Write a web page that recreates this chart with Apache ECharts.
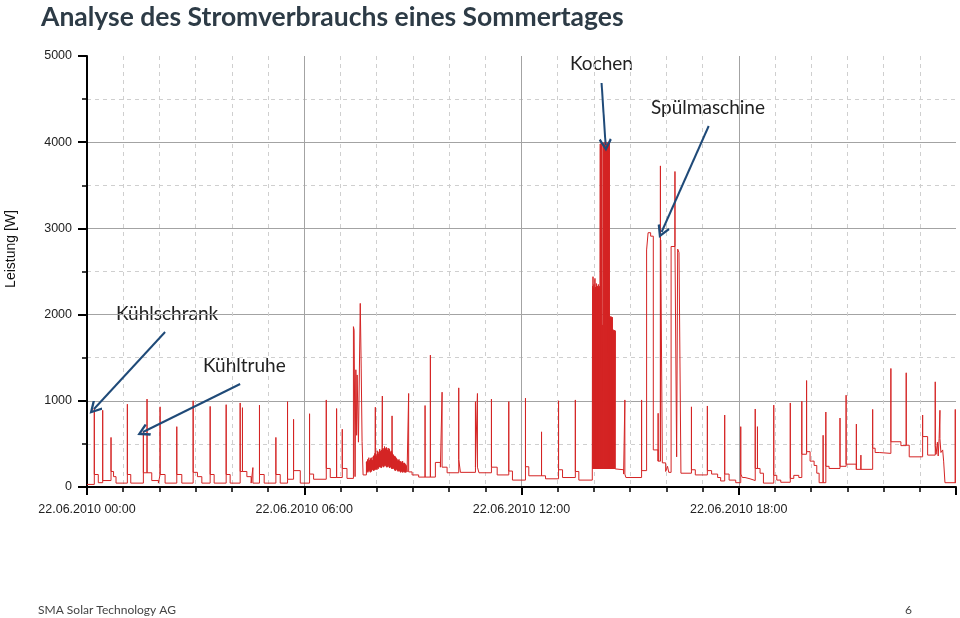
<!DOCTYPE html>
<html><head><meta charset="utf-8">
<script src="https://cdn.jsdelivr.net/npm/echarts@6/dist/echarts.min.js"></script>
<style>html,body{margin:0;padding:0;background:#fff}#c{width:960px;height:618px}</style>
</head><body><div id="c"></div>
<script>
// ---- texts ----
const chartTitle = 'Analyse des Stromverbrauchs eines Sommertages';
const yAxisName = 'Leistung [W]';
const xTickLabels = ['22.06.2010 00:00', '22.06.2010 06:00', '22.06.2010 12:00', '22.06.2010 18:00'];
const footerLeft = 'SMA Solar Technology AG';
const footerRight = '6';

// ---- data: time in minutes since 00:00, power in W ----
// base load level changes [minute, W]
const baseLevels = [
  [0,30],
  [12.1,145],[18.7,50],[26.0,75],[39.8,180],[44.0,120],[48.1,45],
  [66.9,145],[72.5,45],
  [93.4,165],[107.3,75],[118.3,45],
  [121.1,145],[129.4,45],
  [148.8,145],[157.1,45],
  [175.9,170],[183.0,120],[190.3,45],
  [204.1,145],[210.7,45],
  [230.6,145],[237.2,45],
  [253.8,180],[264.9,120],[272.0,45],
  [285.8,145],[293.6,45],
  [313.0,145],[320.2,45],
  [332.3,90],[342.3,190],[353.4,45],
  [368.8,150],[375.5,90],
  [396.5,215],[403.1,110],
  [423.0,215],[430.8,100],
  [441.5,1860],[442.6,1820],[444.2,120],[445.5,1360],[446.8,600],[447.6,1300],[449.8,520],[452.8,2130],[454.4,1380],[455.8,530],[457.5,140],
  [530.4,175],[538.7,140],[549.6,115],[577.3,285],[585.6,230],[596.7,165],[616.0,320],[618.8,170],[643.7,230],[649.5,165],
  [670.2,230],[679.7,140],[698.9,185],[705.0,80],[726.6,235],[732.1,130],[759.8,95],[781.4,200],[788.0,110],[809.2,180],[815.0,80],
  [837.3,210],[876.0,200],[889.2,150],[893.0,110],[919.0,190],
  [927.3,2750],[929.8,2950],[934.0,2910],[938.4,430],[946.4,300],[950.6,2865],[953.4,280],[958.9,180],[962.0,240],[964.0,170],
  [967.9,2790],[977.1,350],[978.8,2760],[981.0,2720],[984.2,160],
  [1001.6,200],[1008.0,140],[1028.0,190],[1035.0,150],[1045.0,110],[1050.0,70],[1056.7,150],[1064.0,80],[1075.0,50],
  [1083.3,150],[1086.0,110],[1090.4,95],[1098.7,75],[1107.3,215],[1115.3,160],[1120.9,45],[1138.0,135],[1143.0,80],[1149.6,55],
  [1165.4,100],[1171.2,135],[1179.5,110],[1184.5,380],[1192.4,410],[1198.2,300],[1204.9,250],[1209.3,160],[1213.2,50],
  [1224.3,240],[1229.7,215],[1247.8,240],[1257.9,265],[1274.9,205],[1301.9,450],[1306.0,400],[1312.7,390],[1332.1,525],
  [1348.7,480],[1357.5,485],[1362.5,350],[1384.7,585],[1393.0,370],[1405.6,480],[1407.0,380],[1409.2,520],[1410.5,360],
  [1412.0,560],[1415.0,400],[1417.9,430],[1419.5,300],[1421.7,50]
];
// morning appliance fluctuation (level changes)
const morningNoise = [
  [463,290],[463.5,170],[464,300],[464.5,180],[465,320],[465.5,170],[466,280],[466.5,190],[467,340],[467.5,180],
  [468,310],[468.5,200],[469,300],[469.5,170],[470,330],[470.5,190],[471,340],[471.5,180],[472,310],[472.5,200],
  [473,310],[473.5,200],[474,350],[474.5,190],[475,360],[475.5,190],[476,370],[476.5,200],[477,390],[477.5,210],
  [478,330],[478.5,200],[479,380],[479.5,210],[480,360],[480.5,200],[481,420],[481.5,220],[482,400],[482.5,210],
  [483,380],[483.5,230],[484,410],[484.5,230],[485,440],[485.5,240],[486,420],[486.5,230],[487,400],[487.5,220],
  [488,430],[488.5,230],[489,460],[489.5,250],[490,440],[490.5,240],[491,430],[491.5,230],[492,450],[492.5,240],
  [493,470],[493.5,260],[494,450],[494.5,250],[495,440],[495.5,240],[496,460],[496.5,230],[497,450],[497.5,230],
  [498,430],[498.5,240],[499,420],[499.5,250],[500,450],[500.5,230],[501,440],[501.5,220],[502,410],[502.5,230],
  [503,400],[503.5,230],[504,420],[504.5,220],[505,410],[505.5,210],[506,390],[506.5,220],[507,380],[507.5,220],
  [508,370],[508.5,210],[509,360],[509.5,200],[510,360],[510.5,190],[511,350],[511.5,190],[512,340],[512.5,200],
  [513,330],[513.5,210],[514,320],[514.5,190],[515,300],[515.5,180],[516,310],[516.5,190],[517,320],[517.5,190],
  [518,300],[518.5,180],[519,290],[519.5,170],[520,300],[520.5,180],[521,280],[521.5,180],[522,290],[522.5,170],
  [523,300],[523.5,170],[524,280],[524.5,180],[525,260],[525.5,180],[526,280],[526.5,170],[527,270],[527.5,170],
  [528,260],[528.5,170],[529,250]
];
// short start-up peaks [minute, W]
const spikes = [
  [12.1,910],[26.0,890],[39.8,575],[66.9,960],[93.4,650],[99.5,1020],[121.1,930],[148.8,700],[175.9,1000],
  [204.1,935],[230.6,955],[253.8,975],[257.6,920],[274.9,225],[285.8,950],[313.0,575],[332.3,990],[342.3,785],
  [368.8,850],[396.5,1010],[413.6,910],[423.0,670],[477.8,925],[489.4,1055],[505.5,825],[533.0,1085],[560.2,945],
  [569.0,1530],[588.4,1100],[616.0,1150],[643.7,990],[647.0,1085],[670.2,1020],[698.9,990],[726.6,1030],[753.2,640],
  [781.4,1000],[809.2,1010],[891.3,1010],[919.0,1010],[946.4,855],[950.2,3725],[974.3,3660],[1001.6,930],[1028.0,940],
  [1056.7,835],[1083.3,700],[1107.3,905],[1111.0,700],[1138.0,950],[1165.4,975],[1184.5,995],[1192.4,1235],
  [1219.8,600],[1224.3,870],[1247.8,800],[1257.9,1065],[1274.9,730],[1282.4,370],[1301.9,900],[1332.1,1375],
  [1357.5,1325],[1384.7,835],[1405.6,1220],[1413.4,890],[1438.8,900]
];
// cooking (hob switching) peaks [minute, W]
const cookingSpikes = [
  [837.7,2330],[838.5,2440],[839.3,2310],[840.1,2350],[840.9,2290],[841.7,2420],[842.5,2320],[843.3,2300],
  [844.1,2360],[844.9,2310],[845.7,2330],[846.5,2290],[847.3,2350],[848.1,2320],[848.9,2300],[849.7,2330],
  [850.5,3980],[851.3,3950],[852.1,4010],[852.9,3960],[853.7,1870],[854.5,1880],[855.3,3990],[856.1,3950],
  [856.9,4000],[857.7,3970],[858.5,3940],[859.3,4020],[860.1,3980],[860.9,3960],[861.7,4000],[862.5,3950],
  [863.3,3990],[864.1,3970],[864.9,3940],[865.7,4010],
  [866.5,1975],[867.3,1960],[868.1,1980],[868.9,1970],[869.7,1950],[870.5,1970],
  [871.3,1830],[872.1,1810],[872.9,1820],[873.7,1800],[874.5,1820],[875.3,1810]
];
// annotations: arrow from label to data point [minute, W]
const annotations = [
  { text: 'Kochen',       from: [852.7, 4687], to: [859.4, 3967] },
  { text: 'Spülmaschine', from: [1030.2, 4188], to: [952.2, 2958] },
  { text: 'Kühlschrank',  from: [129.4, 1798], to: [11.6, 905] },
  { text: 'Kühltruhe',    from: [253.8, 1195], to: [92.9, 638] }
];

// ---- build polyline from level changes and peaks ----
const events = [];
baseLevels.concat(morningNoise).forEach(p => events.push({ t: p[0], kind: 0, v: p[1] }));
spikes.concat(cookingSpikes).forEach(p => events.push({ t: p[0], kind: 1, v: p[1] }));
events.sort((a, b) => a.t - b.t || a.kind - b.kind);
const lineData = [];
let cur = null;
events.forEach(e => {
  if (e.kind === 0) {
    if (cur === null) { lineData.push([e.t, e.v]); }
    else { lineData.push([e.t, cur], [e.t, e.v]); }
    cur = e.v;
  } else {
    lineData.push([e.t, cur], [e.t, e.v], [e.t, cur]);
  }
});
lineData.push([1440, cur]);

const chevron = 'path://M5,0 L10,9 L8.6,10.2 L5,3.6 L1.4,10.2 L0,9 Z';
const chart = echarts.init(document.getElementById('c'), null, { renderer: 'canvas' });
const textFont = 'Lato, "Noto Sans", sans-serif';
chart.setOption({
  animation: false,
  backgroundColor: '#ffffff',
  title: {
    text: chartTitle, left: 36, top: -1,
    textStyle: { fontSize: 26.5, fontWeight: 'bold', color: '#2d3b46', fontFamily: textFont }
  },
  grid: { left: 87, right: 4, top: 56, bottom: 131 },
  xAxis: {
    type: 'value', min: 0, max: 1440, interval: 360,
    axisLine: { lineStyle: { color: '#000', width: 2 } },
    axisTick: { length: 8, lineStyle: { color: '#000', width: 2 } },
    minorTick: { show: true, splitNumber: 6, length: 5, lineStyle: { color: '#000', width: 1.5 } },
    axisLabel: { formatter: v => xTickLabels[Math.round(v / 360)] || '', color: '#222', fontFamily: '"Liberation Sans", Arial', fontSize: 12.5, margin: 16 },
    splitLine: { show: true, showMaxLine: false, lineStyle: { color: '#a3a3a3', width: 1 } },
    minorSplitLine: { show: true, lineStyle: { color: '#cfcfcf', width: 1, type: [4, 4] } }
  },
  yAxis: {
    type: 'value', min: 0, max: 5000, interval: 1000,
    axisLine: { show: true, lineStyle: { color: '#000', width: 2 } },
    axisTick: { show: true, length: 9, lineStyle: { color: '#000', width: 2 } },
    minorTick: { show: true, splitNumber: 2, length: 5, lineStyle: { color: '#000', width: 1.5 } },
    axisLabel: { formatter: v => String(v), color: '#222', fontFamily: '"Liberation Sans", Arial', fontSize: 12.5, margin: 15 },
    splitLine: { show: true, showMaxLine: false, lineStyle: { color: '#a3a3a3', width: 1 } },
    minorSplitLine: { show: true, lineStyle: { color: '#cfcfcf', width: 1, type: [4, 4] } }
  },
  series: [
    {
      type: 'line', data: lineData, showSymbol: false, symbol: 'none', sampling: null,
      lineStyle: { color: '#d42424', width: 1 }, z: 3
    },
    {
      type: 'lines', coordinateSystem: 'cartesian2d', z: 5,
      data: annotations.map(a => ({ coords: [a.from, a.to] })),
      symbol: ['none', chevron], symbolSize: [12, 13],
      lineStyle: { color: '#1f4a78', width: 2, opacity: 1, curveness: 0 }
    }
  ],
  graphic: [
    { type: 'text', x: 570, y: 64, style: { text: annotations[0].text, font: '19px ' + textFont, fill: '#222', verticalAlign: 'middle' } },
    { type: 'text', x: 651, y: 108, style: { text: annotations[1].text, font: '19px ' + textFont, fill: '#222', verticalAlign: 'middle' } },
    { type: 'text', x: 116, y: 314, style: { text: annotations[2].text, font: '19px ' + textFont, fill: '#222', verticalAlign: 'middle' } },
    { type: 'text', x: 203, y: 366, style: { text: annotations[3].text, font: '19px ' + textFont, fill: '#222', verticalAlign: 'middle' } },
    { type: 'text', x: 11, y: 249, rotation: Math.PI / 2, style: { text: yAxisName, font: '14px "Liberation Sans", Arial', fill: '#111', align: 'center', verticalAlign: 'middle' } },
    { type: 'text', x: 38, y: 610, style: { text: footerLeft, font: '12px ' + textFont, fill: '#444', verticalAlign: 'middle' } },
    { type: 'text', x: 905, y: 610, style: { text: footerRight, font: '12px ' + textFont, fill: '#444', verticalAlign: 'middle' } }
  ]
});
</script></body></html>
